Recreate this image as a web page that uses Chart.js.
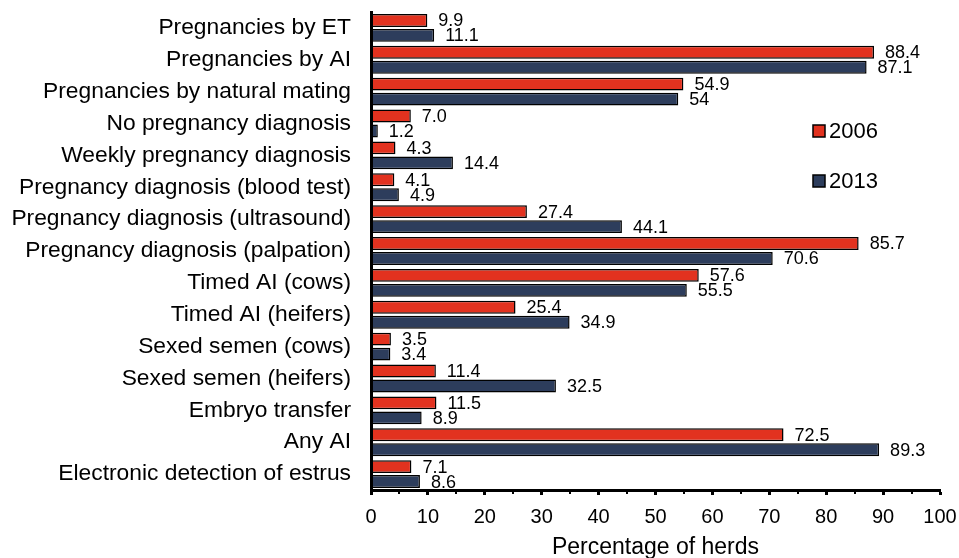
<!DOCTYPE html>
<html>
<head>
<meta charset="utf-8">
<script src="https://cdn.jsdelivr.net/npm/chart.js@4.4.1/dist/chart.umd.min.js"></script>
<style>
html,body{margin:0;padding:0;background:#fff;}
#wrap{position:relative;width:959px;height:558px;}
</style>
</head>
<body>
<div id="wrap"><canvas id="c" width="959" height="558"></canvas></div>
<script>
const categories = [
  "Pregnancies by ET",
  "Pregnancies by AI",
  "Pregnancies by natural mating",
  "No pregnancy diagnosis",
  "Weekly pregnancy diagnosis",
  "Pregnancy diagnosis (blood test)",
  "Pregnancy diagnosis (ultrasound)",
  "Pregnancy diagnosis (palpation)",
  "Timed AI (cows)",
  "Timed AI (heifers)",
  "Sexed semen (cows)",
  "Sexed semen (heifers)",
  "Embryo transfer",
  "Any AI",
  "Electronic detection of estrus"
];
const values2006 = [9.9, 88.4, 54.9, 7.0, 4.3, 4.1, 27.4, 85.7, 57.6, 25.4, 3.5, 11.4, 11.5, 72.5, 7.1];
const values2013 = [11.1, 87.1, 54, 1.2, 14.4, 4.9, 44.1, 70.6, 55.5, 34.9, 3.4, 32.5, 8.9, 89.3, 8.6];
const labels2006 = ["9.9","88.4","54.9","7.0","4.3","4.1","27.4","85.7","57.6","25.4","3.5","11.4","11.5","72.5","7.1"];
const labels2013 = ["11.1","87.1","54","1.2","14.4","4.9","44.1","70.6","55.5","34.9","3.4","32.5","8.9","89.3","8.6"];
const seriesNames = ["2006", "2013"];
const xTicks = [0,10,20,30,40,50,60,70,80,90,100];
const xMinorTicks = [5,15,25,35,45,55,65,75,85,95];
const xTitle = "Percentage of herds";

const FONT = "'Liberation Sans', Arial, sans-serif";
const RED = "#e2321f";
const BLUE = "#2d3d5c";
const valueLabels = [labels2006, labels2013];

const labelPlugin = {
  id: 'valLabels',
  afterDatasetsDraw(chart) {
    const ctx = chart.ctx;
    ctx.save();
    ctx.font = "18px " + FONT;
    ctx.fillStyle = "#000";
    ctx.textBaseline = "middle";
    ctx.textAlign = "left";
    chart.data.datasets.forEach((ds, di) => {
      const meta = chart.getDatasetMeta(di);
      meta.data.forEach((bar, i) => {
        ctx.fillText(valueLabels[di][i], bar.x + 11, bar.y + 1);
      });
    });
    ctx.restore();
  },
  afterDraw(chart) {
    const ctx = chart.ctx;
    const xs = chart.scales.x;
    ctx.save();
    ctx.strokeStyle = "#000";
    ctx.lineWidth = 2;
    xMinorTicks.forEach(v => {
      const px = Math.round(xs.getPixelForValue(v));
      ctx.beginPath();
      ctx.moveTo(px, xs.top);
      ctx.lineTo(px, xs.top + 4);
      ctx.stroke();
    });
    // legend
    const items = [{c: RED, t: seriesNames[0], y: 131}, {c: BLUE, t: seriesNames[1], y: 181}];
    ctx.font = "22px " + FONT;
    ctx.textBaseline = "middle";
    ctx.textAlign = "left";
    items.forEach(it => {
      ctx.fillStyle = it.c;
      ctx.fillRect(813, it.y - 6, 12, 12);
      ctx.strokeStyle = "#000";
      ctx.lineWidth = 1.5;
      ctx.strokeRect(813, it.y - 6, 12, 12);
      ctx.fillStyle = "#000";
      ctx.fillText(it.t, 829, it.y + 1);
    });
    ctx.restore();
  }
};

new Chart(document.getElementById('c'), {
  type: 'bar',
  data: {
    labels: categories,
    datasets: [
      {label: seriesNames[0], data: values2006, backgroundColor: RED, borderColor: "#000", borderWidth: 1.5, borderSkipped: false, categoryPercentage: 0.94, barPercentage: 0.86},
      {label: seriesNames[1], data: values2013, backgroundColor: BLUE, borderColor: "#000", borderWidth: 1.5, borderSkipped: false, categoryPercentage: 0.94, barPercentage: 0.86}
    ]
  },
  options: {
    indexAxis: 'y',
    responsive: false,
    animation: false,
    devicePixelRatio: 1,
    layout: {padding: {top: 12, right: 19, left: 0, bottom: 0}},
    plugins: {legend: {display: false}, tooltip: {enabled: false}},
    scales: {
      x: {
        min: 0, max: 100,
        afterBuildTicks(scale) { scale.ticks = xTicks.map(v => ({value: v})); },
        afterFit(scale) { scale.height = 68; scale.paddingLeft = 0; scale.paddingRight = 0; },
        grid: {display: true, drawOnChartArea: false, drawTicks: true, tickLength: 5, tickWidth: 3, tickColor: "#000"},
        border: {display: true, color: "#000", width: 3},
        ticks: {color: "#000", font: {size: 20, family: FONT}, padding: 10, maxRotation: 0},
        title: {display: true, text: xTitle, color: "#000", font: {size: 23, family: FONT}, padding: {top: 0, bottom: -3}}
      },
      y: {
        afterFit(scale) { scale.width = 371; scale.paddingTop = 0; scale.paddingBottom = 0; },
        grid: {display: false, drawTicks: false},
        border: {display: true, color: "#000", width: 3},
        ticks: {color: "#000", font: {size: 22.8, family: FONT}, padding: 20, autoSkip: false}
      }
    }
  },
  plugins: [labelPlugin]
});
</script>
</body>
</html>
